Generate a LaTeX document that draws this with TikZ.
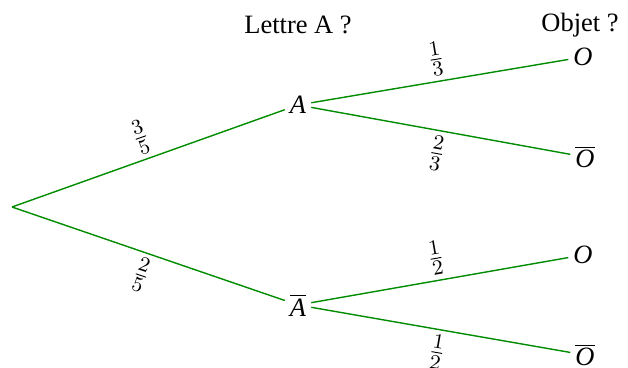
\documentclass[tikz,border=0pt]{standalone}
\usepackage{fontspec}
\setmainfont{Liberation Serif}
\usepackage{tikz}
\usetikzlibrary{positioning}

\begin{document}
\begin{tikzpicture}[
    x=0.015cm, y=-0.015cm,
    event/.style={inner sep=2pt, font=\fontsize{11.3}{13}\selectfont},
    branch/.style={draw=green!55!black, semithick},
    prob/.style={sloped, font=\fontsize{13}{15}\selectfont, inner sep=2pt}
]
\useasboundingbox (0,0) rectangle (628,367);

\node[event] (root) at (12,207) {};
\node[event] (a) at (298,105) {$\mbox{\itshape A}$};
\node[event] (abar) at (298,305) {$\overline{\mbox{\itshape A}}$};
\node[event] (o1) at (583,57) {$\mbox{\itshape O}$};
\node[event] (obar1) at (585,157) {$\overline{\mbox{\itshape O}}$};
\node[event] (o2) at (583,255) {$\mbox{\itshape O}$};
\node[event] (obar2) at (585,355) {$\overline{\mbox{\itshape O}}$};

\node[event] (lettre) at (298,25) {Lettre A ?};
\node[event] (objet) at (580,25) {Objet ?};

\draw[branch] (root.center) -- node[prob, above] {$\frac{3}{5}$} (a);
\draw[branch] (root.center) -- node[prob, below] {$\frac{2}{5}$} (abar);
\draw[branch] (a) -- node[prob, above] {$\frac{1}{3}$} (o1);
\draw[branch] (a) -- node[prob, below] {$\frac{2}{3}$} (obar1);
\draw[branch] (abar) -- node[prob, above] {$\frac{1}{2}$} (o2);
\draw[branch] (abar) -- node[prob, below] {$\frac{1}{2}$} (obar2);

\end{tikzpicture}
\end{document}
